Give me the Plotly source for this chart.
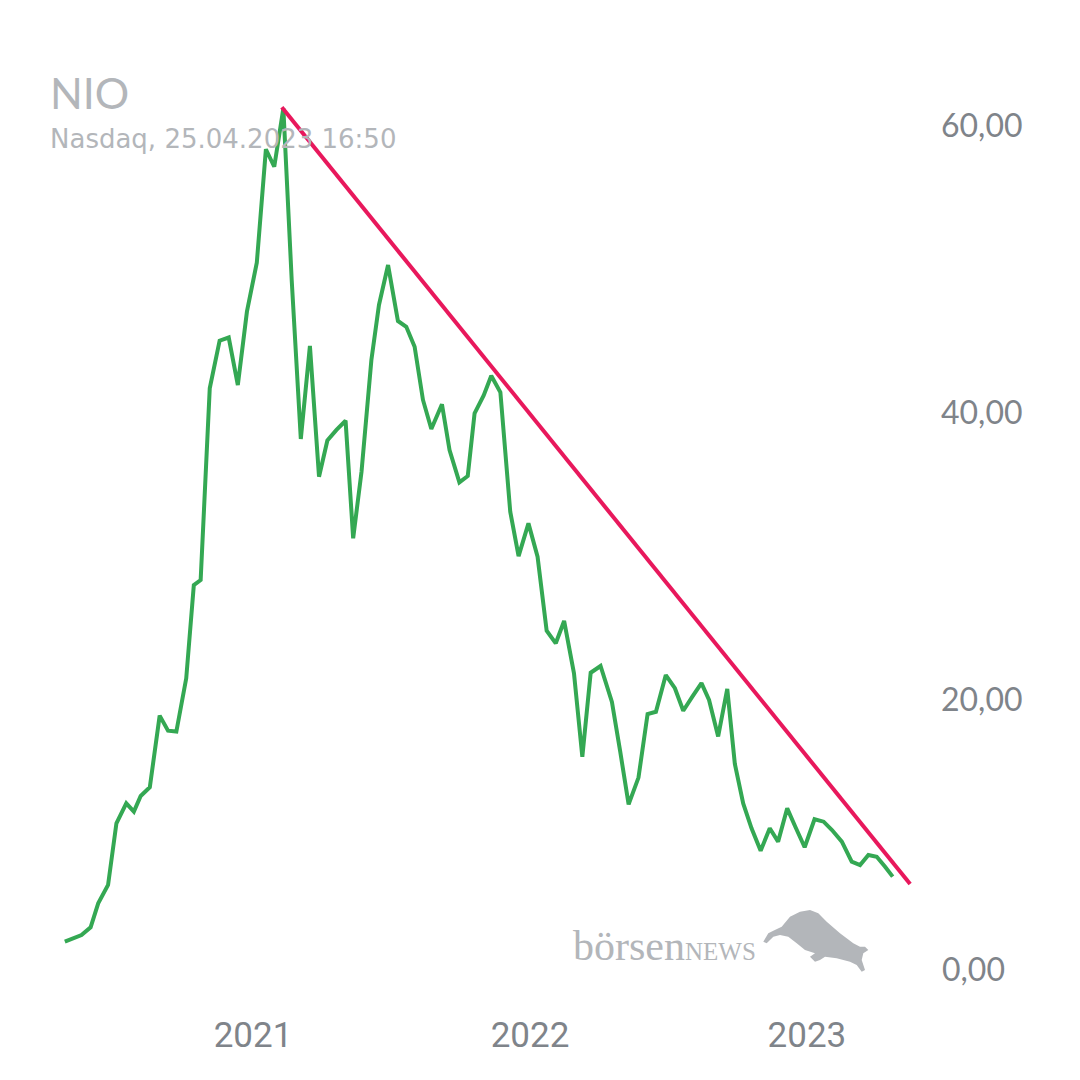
import plotly.graph_objects as go

# ---- data (NIO, Nasdaq, USD) ----
dates = [
    "2020-04-28", "2020-05-20", "2020-06-01", "2020-06-11", "2020-06-24", "2020-07-05",
    "2020-07-18", "2020-07-28", "2020-08-06", "2020-08-18", "2020-08-31", "2020-09-11",
    "2020-09-22", "2020-10-05", "2020-10-15", "2020-10-24", "2020-11-05", "2020-11-18",
    "2020-11-30", "2020-12-12", "2020-12-24", "2021-01-06", "2021-01-18", "2021-01-29",
    "2021-02-10", "2021-02-21", "2021-03-05", "2021-03-17", "2021-03-29", "2021-04-09",
    "2021-04-21", "2021-05-03", "2021-05-13", "2021-05-24", "2021-06-06", "2021-06-16",
    "2021-06-28", "2021-07-11", "2021-07-22", "2021-08-02", "2021-08-13", "2021-08-24",
    "2021-09-07", "2021-09-17", "2021-09-30", "2021-10-11", "2021-10-20", "2021-11-01",
    "2021-11-11", "2021-11-23", "2021-12-06", "2021-12-17", "2021-12-30", "2022-01-11",
    "2022-01-23", "2022-02-04", "2022-02-15", "2022-02-28", "2022-03-11", "2022-03-22",
    "2022-04-04", "2022-04-19", "2022-04-30", "2022-05-11", "2022-05-24", "2022-06-05",
    "2022-06-16", "2022-06-29", "2022-07-11", "2022-07-22", "2022-08-03", "2022-08-15",
    "2022-08-25", "2022-09-06", "2022-09-18", "2022-09-28", "2022-10-09", "2022-10-20",
    "2022-11-01", "2022-11-13", "2022-11-24", "2022-12-06", "2022-12-17", "2022-12-29",
    "2023-01-11", "2023-01-23", "2023-02-03", "2023-02-16", "2023-03-01", "2023-03-12",
    "2023-03-23", "2023-04-03", "2023-04-14", "2023-04-24",
]
prices = [
    3.16, 3.62, 4.16, 5.83, 7.11, 11.41,
    12.80, 12.22, 13.31, 13.92, 18.91, 17.86,
    17.80, 21.51, 28.01, 28.36, 41.72, 45.04,
    45.26, 41.95, 47.06, 50.47, 58.38, 57.16,
    61.23, 49.27, 38.19, 44.67, 35.56, 38.08,
    38.82, 39.46, 31.27, 35.91, 43.69, 47.53,
    50.31, 46.41, 46.01, 44.62, 40.91, 38.89,
    40.61, 37.42, 35.17, 35.61, 39.98, 41.22,
    42.60, 41.44, 33.12, 30.03, 32.31, 29.99,
    24.83, 23.95, 25.51, 21.86, 16.05, 21.90,
    22.37, 19.86, 16.38, 12.73, 14.59, 19.02,
    19.18, 21.74, 20.82, 19.25, 20.23, 21.18,
    20.00, 17.46, 20.77, 15.54, 12.79, 11.06,
    9.50, 11.06, 10.13, 12.45, 11.13, 9.74,
    11.69, 11.52, 10.94, 10.13, 8.73, 8.50,
    9.20, 9.08, 8.38, 7.69,
]
trend_dates = ["2021-02-08", "2023-05-17"]
trend_values = [61.3, 7.18]

year_ticks = ["2021-01-01", "2022-01-01", "2023-01-01"]
year_labels = ["2021", "2022", "2023"]
y_ticks = [20, 40, 60]
y_labels = ["20,00", "40,00", "60,00"]

# ---- layout geometry ----
W = H = 1080
ML, MR, MT, MB = 40, 160, 60, 90
PW, PH = W - ML - MR, H - MT - MB


def px(xp):
    return (xp - ML) / PW


def py(yp):
    return (H - MB - yp) / PH


GREEN = "#34a853"
RED = "#e8185c"
GREY_T = "#b3b6ba"
GREY_A = "#7f848a"

fig = go.Figure()
fig.add_trace(go.Scatter(x=dates, y=prices, mode="lines",
                         line=dict(color=GREEN, width=4), hoverinfo="skip"))
fig.add_trace(go.Scatter(x=trend_dates, y=trend_values, mode="lines",
                         line=dict(color=RED, width=4), hoverinfo="skip",
                         cliponaxis=False))

# bull silhouette (decorative watermark)
bull = [(763.3, 941.7), (768.3, 933.3), (773.3, 930.7), (781.7, 926.7), (790, 916.7),
        (800, 911.7), (810, 910), (818.3, 913.3), (826.7, 921.7), (840, 933.3),
        (853.3, 943.3), (860, 946.7), (865, 946.7), (868.3, 950), (863.3, 953.3),
        (861.7, 960), (865, 970), (861.7, 971.7), (856.7, 965), (850, 961.7),
        (836.7, 958.3), (825, 956.7), (820, 960), (815, 961.7), (810, 956.7),
        (815, 953.3), (805, 950), (796.7, 943.3), (788.3, 936.7), (780, 935),
        (773.3, 936.7), (766.7, 943.3)]
path = "M " + " L ".join(f"{px(a):.5f},{py(b):.5f}" for a, b in bull) + " Z"
fig.add_shape(type="path", path=path, xref="paper", yref="paper",
              fillcolor="#b3b6ba", line=dict(width=0), layer="below")

annotations = [
    dict(text="NIO", x=px(48), y=py(92), xref="paper", yref="paper",
         xanchor="left", yanchor="middle", showarrow=False,
         font=dict(family="Lato", size=43, color=GREY_T)),
    dict(text="Nasdaq, 25.04.2023 16:50", x=px(48), y=py(139), xref="paper", yref="paper",
         xanchor="left", yanchor="middle", showarrow=False,
         font=dict(family="DejaVu Sans", size=26, color=GREY_T)),
    dict(text="börsen<span style='font-size:25px'>NEWS</span>", x=px(758), y=py(946),
         xref="paper", yref="paper", xanchor="right", yanchor="middle", showarrow=False,
         font=dict(family="Liberation Serif", size=42, color="#b3b6ba")),
    dict(text="0,00", x=1, y=0, xref="paper", yref="y", xanchor="left", yanchor="middle",
         xshift=20, yshift=19, showarrow=False,
         font=dict(family="Lato", size=32, color=GREY_A)),
]

fig.update_layout(
    width=W, height=H, margin=dict(l=ML, r=MR, t=MT, b=MB),
    paper_bgcolor="white", plot_bgcolor="white", showlegend=False,
    annotations=annotations,
    xaxis=dict(type="date", range=["2020-03-26 07:00", "2023-05-30 00:00"],
               tickvals=year_ticks, ticktext=year_labels, showgrid=False,
               zeroline=False, showline=False, ticks="",
               tickfont=dict(family="Roboto", size=35, color=GREY_A),
               ticklabelstandoff=21),
    yaxis=dict(range=[(987 - 990) / 14.35, (987 - 60) / 14.35], side="right",
               tickvals=y_ticks, ticktext=y_labels, showgrid=False,
               zeroline=False, showline=False, ticks="",
               tickfont=dict(family="Lato", size=32, color=GREY_A),
               ticklabelstandoff=20),
)

fig.write_html("out.html")
